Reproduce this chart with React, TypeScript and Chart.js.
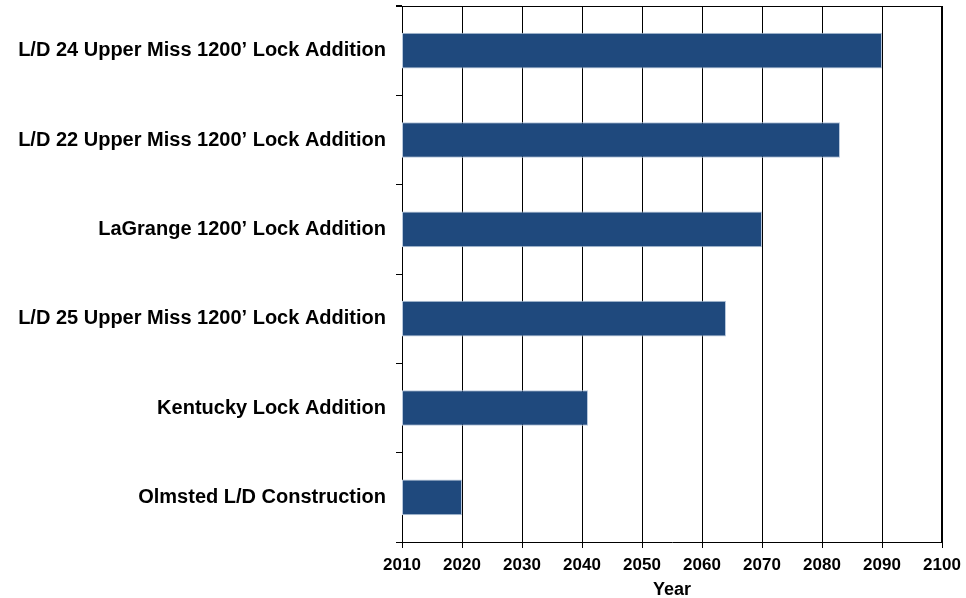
import React, { useEffect, useRef } from "react";
import { Chart, registerables } from "chart.js";

Chart.register(...registerables);

const categories = [
  "L/D 24 Upper Miss 1200\u2019 Lock Addition",
  "L/D 22 Upper Miss 1200\u2019 Lock Addition",
  "LaGrange 1200\u2019 Lock Addition",
  "L/D 25 Upper Miss 1200\u2019 Lock Addition",
  "Kentucky Lock Addition",
  "Olmsted L/D Construction",
];
const startYear = 2010;
const endYears = [2090, 2083, 2070, 2064, 2041, 2020];
const axisMin = 2010;
const axisMax = 2100;
const axisStep = 10;
const axisTitle = "Year";

const FONT = "'Liberation Sans', Arial, Helvetica, sans-serif";

const framePlugin = {
  id: "frame",
  afterDraw(chart: any) {
    const { ctx, chartArea } = chart;
    ctx.save();
    ctx.strokeStyle = "#000";
    ctx.lineWidth = 1;
    ctx.beginPath();
    ctx.moveTo(chartArea.left - 6, chartArea.top + 0.5);
    ctx.lineTo(chartArea.right, chartArea.top + 0.5);
    ctx.moveTo(chartArea.right - 0.5, chartArea.top);
    ctx.lineTo(chartArea.right - 0.5, chartArea.bottom);
    ctx.stroke();
    ctx.restore();
  },
};

export default function App() {
  const ref = useRef<HTMLCanvasElement>(null);
  useEffect(() => {
    document.body.style.margin = "0";
    const chart = new Chart(ref.current!, {
      type: "bar",
      data: {
        labels: categories,
        datasets: [
          {
            data: endYears.map((v) => [startYear, v]) as any,
            backgroundColor: "#1F497D",
            borderColor: "#B7C7DC",
            borderWidth: 1,
            borderSkipped: false,
            barPercentage: 0.4,
            categoryPercentage: 1,
          },
        ],
      },
      options: {
        indexAxis: "y",
        responsive: false,
        animation: false,
        maintainAspectRatio: false,
        layout: { padding: { top: 6, right: 24, left: 0, bottom: 0 } },
        plugins: { legend: { display: false }, tooltip: { enabled: false } },
        scales: {
          x: {
            type: "linear",
            min: axisMin,
            max: axisMax,
            ticks: {
              stepSize: axisStep,
              color: "#000",
              font: { family: FONT, size: 17, weight: "bold" },
              padding: 7,
              callback: (v: any) => String(v),
            },
            grid: { color: "#000", lineWidth: 1, tickLength: 6, drawTicks: true },
            border: { color: "#000", width: 1 },
            title: {
              display: true,
              text: axisTitle,
              color: "#000",
              font: { family: FONT, size: 18, weight: "bold" },
              padding: { top: 0, bottom: -3 },
            },
            afterFit: (s: any) => {
              s.height = 56;
              s.paddingLeft = 0;
              s.paddingRight = 0;
            },
          },
          y: {
            type: "category",
            ticks: {
              color: "#000",
              font: { family: FONT, size: 20, weight: "bold" },
              padding: 10,
            },
            grid: { drawOnChartArea: false, drawTicks: true, tickLength: 6, color: "#000", offset: true },
            border: { color: "#000", width: 1 },
            afterFit: (s: any) => {
              s.width = 402;
              s.paddingTop = 0;
              s.paddingBottom = 0;
            },
          },
        },
      },
      plugins: [framePlugin],
    } as any);
    return () => chart.destroy();
  }, []);
  return <canvas ref={ref} width={966} height={598} style={{ display: "block" }} />;
}
